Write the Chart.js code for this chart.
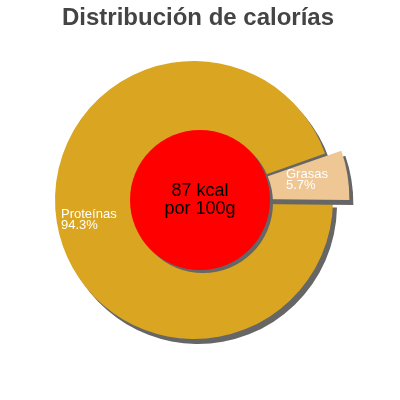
<!DOCTYPE html>
<html>
<head>
<meta charset="utf-8">
<script src="https://cdn.jsdelivr.net/npm/chart.js@4"></script>
<style>
  html, body { margin: 0; padding: 0; background: #fff; }
  #wrap { width: 400px; height: 400px; }
</style>
</head>
<body>
<div id="wrap"><canvas id="chart" width="400" height="400"></canvas></div>
<script>
const titleText = "Distribución de calorías";
const labels = ["Proteínas", "Grasas"];
const shares = [94.3, 5.7];
const sliceColors = ["#DAA520", "#EFC795"];
const sliceOffsets = [0, 40];
const centerLines = ["87 kcal", "por 100g"];

const FONT = '"Liberation Sans", Arial, sans-serif';

// label anchor relative to the pie centre, one per slice
const labelAnchors = [
    { dx: -133, dy: 18 },
    { dx: 92, dy: -22 },
];

const shadowPlugin = {
    id: "shadow",
    beforeDatasetsDraw(chart) {
        const ctx = chart.ctx;
        ctx.save();
        ctx.shadowColor = "#666";
        ctx.shadowOffsetX = 4;
        ctx.shadowOffsetY = 5;
        ctx.shadowBlur = 0;
    },
    afterDatasetsDraw(chart) {
        const ctx = chart.ctx;
        ctx.restore();

        const arcs = chart.getDatasetMeta(0).data;
        const cx = arcs[0].x;
        const cy = arcs[0].y;

        // red centre disc
        ctx.save();
        ctx.shadowColor = "#666";
        ctx.shadowOffsetX = 3;
        ctx.shadowOffsetY = 3;
        ctx.fillStyle = "#FF0000";
        ctx.beginPath();
        ctx.arc(cx + 6, cy, 70, 0, Math.PI * 2);
        ctx.fill();
        ctx.restore();

        ctx.save();
        ctx.fillStyle = "#000";
        ctx.textAlign = "center";
        ctx.textBaseline = "alphabetic";
        ctx.font = "18px " + FONT;
        ctx.fillText(centerLines[0], cx + 6, cy - 4);
        ctx.fillText(centerLines[1], cx + 6, cy + 14);
        ctx.restore();

        // slice labels
        ctx.save();
        ctx.fillStyle = "#fff";
        ctx.textAlign = "left";
        ctx.font = "13px " + FONT;
        labels.forEach((name, i) => {
            const a = labelAnchors[i];
            ctx.fillText(name, cx + a.dx, cy + a.dy);
            ctx.fillText(shares[i].toFixed(1) + "%", cx + a.dx, cy + a.dy + 11);
        });
        ctx.restore();

        // title
        ctx.save();
        ctx.fillStyle = "#444";
        ctx.textAlign = "center";
        ctx.font = "bold 24px " + FONT;
        ctx.fillText(titleText, 198, 25);
        ctx.restore();
    },
};

new Chart(document.getElementById("chart"), {
    type: "pie",
    data: {
        labels,
        datasets: [
            {
                data: shares,
                backgroundColor: sliceColors,
                borderWidth: 0,
                offset: sliceOffsets,
                hoverOffset: 0,
            },
        ],
    },
    options: {
        responsive: false,
        animation: false,
        radius: 139,
        rotation: 91,
        layout: { padding: { left: 20, right: 32, top: 40, bottom: 40 } },
        plugins: {
            legend: { display: false },
            tooltip: { enabled: false },
            title: { display: false },
        },
        events: [],
    },
    plugins: [shadowPlugin],
});
</script>
</body>
</html>
